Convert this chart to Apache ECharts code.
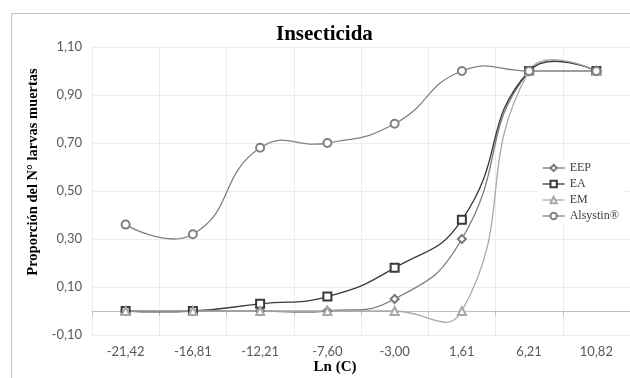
<!DOCTYPE html>
<html>
<head>
<meta charset="utf-8">
<script src="https://cdn.jsdelivr.net/npm/echarts@6/dist/echarts.min.js"></script>
<style>
  html, body { margin: 0; padding: 0; background: #fff; }
  #chart { width: 630px; height: 378px; }
</style>
</head>
<body>
<div id="chart"></div>
<script>
// Ln (C) categories and proportions
const categories = ['-21,42', '-16,81', '-12,21', '-7,60', '-3,00', '1,61', '6,21', '10,82'];
const eep = [0, 0, 0, 0, 0.05, 0.30, 1, 1];
const ea = [0, 0, 0.03, 0.06, 0.18, 0.38, 1, 1];
const em = [0, 0, 0, 0, 0, 0, 1, 1];
const alsystin = [0.36, 0.32, 0.68, 0.70, 0.78, 1, 1, 1];
const seriesNames = ['EEP', 'EA', 'EM', 'Alsystin®'];

const colors = ['#7a7a7a', '#3a3a3a', '#a8a8a8', '#808080'];
const symbols = ['emptyDiamond', 'emptyRect', 'emptyTriangle', 'emptyCircle'];
const serif = '"Liberation Serif", "DejaVu Serif", serif';
const sans = 'Lato, "Open Sans", sans-serif';

// same control points as echarts' smooth line, but without the clamp,
// so the curve can over/undershoot like the spreadsheet one
function curvePath(points, smooth) {
  let d = 'M' + points[0][0] + ' ' + points[0][1];
  let cp0 = points[0];
  for (let k = 1; k < points.length; k++) {
    const p = points[k];
    const prev = points[k - 1];
    let cp1 = p;
    let nextCp0 = p;
    if (k < points.length - 1) {
      const n = points[k + 1];
      const vx = n[0] - prev[0];
      const vy = n[1] - prev[1];
      const l0 = Math.hypot(p[0] - prev[0], p[1] - prev[1]);
      const l1 = Math.hypot(n[0] - p[0], n[1] - p[1]);
      const r = l1 / (l0 + l1);
      cp1 = [p[0] - vx * smooth * (1 - r), p[1] - vy * smooth * (1 - r)];
      nextCp0 = [p[0] + vx * smooth * r, p[1] + vy * smooth * r];
    }
    d += ' C' + cp0[0] + ' ' + cp0[1] + ' ' + cp1[0] + ' ' + cp1[1] + ' ' + p[0] + ' ' + p[1];
    cp0 = nextCp0;
  }
  return d;
}

function curveSeries(name, values, color) {
  return {
    type: 'custom',
    name: name,
    silent: true,
    clip: false,
    z: 2,
    data: values.map((v, i) => [i, v]),
    encode: { x: 0, y: 1 },
    renderItem(params, api) {
      if (params.dataIndex !== 0) {
        return null;
      }
      const pts = values.map((v, i) => api.coord([i, v]));
      return {
        type: 'path',
        shape: { pathData: curvePath(pts, 0.5) },
        style: { fill: 'none', stroke: color, lineWidth: 1.3 },
      };
    },
  };
}

function markerSeries(name, values, color, symbol) {
  return {
    type: 'line',
    name: name,
    data: values,
    symbol: symbol,
    symbolSize: 8,
    showSymbol: true,
    z: 3,
    itemStyle: { color: color, borderWidth: 1.2 },
    lineStyle: { opacity: 0 },
    emphasis: { disabled: true },
  };
}

const allValues = [eep, ea, em, alsystin];
const markers = seriesNames.map((n, i) => markerSeries(n, allValues[i], colors[i], symbols[i]));
const curves = seriesNames.map((n, i) => curveSeries(n, allValues[i], colors[i]));

const chart = echarts.init(document.getElementById('chart'));
chart.setOption({
  animation: false,
  title: {
    text: 'Insecticida',
    left: 276,
    top: 24,
    padding: 0,
    textStyle: { fontFamily: serif, fontWeight: 'bold', fontSize: 21, color: '#000' },
  },
  legend: {
    orient: 'vertical',
    left: 538,
    top: 160,
    itemWidth: 22,
    itemHeight: 8,
    itemGap: 4,
    padding: [2, 4],
    backgroundColor: '#fff',
    textStyle: { fontFamily: serif, fontSize: 12, color: '#404040' },
    data: seriesNames.map((n, i) => ({
      name: n,
      lineStyle: { color: colors[i], width: 1.3, opacity: 1 },
    })),
  },
  grid: {
    left: 92,
    right: 0,
    top: 47,
    bottom: 43,
  },
  xAxis: {
    type: 'category',
    data: categories,
    boundaryGap: true,
    axisLine: { lineStyle: { color: '#bfbfbf' } },
    axisTick: { show: true, length: 5, lineStyle: { color: '#bfbfbf' } },
    axisLabel: { fontFamily: sans, fontSize: 13, color: '#595959', margin: 10 },
    splitLine: { show: true, lineStyle: { color: '#ececec' } },
  },
  yAxis: {
    type: 'value',
    min: -0.1,
    max: 1.1,
    interval: 0.2,
    axisLine: { show: false },
    axisTick: { show: false },
    axisLabel: {
      fontFamily: sans,
      fontSize: 13,
      color: '#595959',
      margin: 10,
      formatter: (v) => v.toFixed(2).replace('.', ','),
    },
    splitLine: { show: true, lineStyle: { color: '#ececec' } },
  },
  graphic: [
    {
      type: 'rect',
      silent: true,
      z: -10,
      shape: { x: 11.5, y: 13.5, width: 700, height: 400 },
      style: { fill: 'none', stroke: '#c4c4c4', lineWidth: 1 },
    },
    {
      type: 'text',
      x: 33,
      y: 172,
      rotation: Math.PI / 2,
      style: {
        text: 'Proporción del N° larvas muertas',
        font: 'bold 14.5px ' + serif,
        fill: '#000',
        align: 'center',
        verticalAlign: 'middle',
      },
    },
    {
      type: 'text',
      x: 335,
      y: 367,
      style: {
        text: 'Ln (C)',
        font: 'bold 15px ' + serif,
        fill: '#000',
        align: 'center',
        verticalAlign: 'middle',
      },
    },
  ],
  series: markers.concat(curves),
});
</script>
</body>
</html>
